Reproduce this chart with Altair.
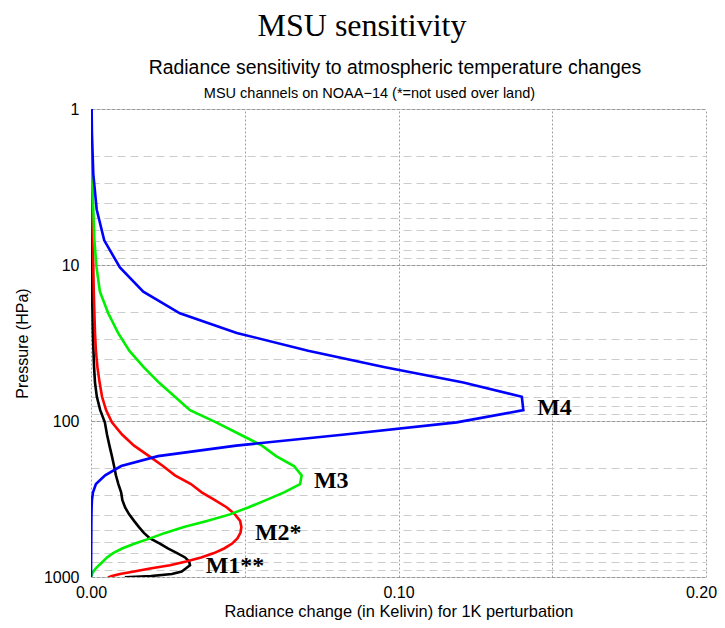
import altair as alt
import pandas as pd

# Pressure levels (hPa)
levels = [0.69, 1.42, 2.611, 4.407, 6.95, 10.37, 14.81, 20.4, 27.26, 35.51,
          45.29, 56.73, 69.97, 85.18, 102.05, 122.04, 143.84, 167.95, 194.36, 222.94,
          253.71, 286.6, 321.5, 358.28, 396.81, 436.95, 478.54, 521.46, 565.54, 610.6,
          656.43, 702.73, 749.12, 795.09, 839.95, 882.8, 922.46, 957.44, 985.88, 1005.43]

m4 = [0.0001, 0.0003, 0.00075, 0.00185, 0.0043, 0.0094, 0.0170, 0.0289, 0.0474, 0.0706,
      0.0956, 0.1211, 0.1401, 0.1406, 0.1189, 0.0825, 0.0472, 0.0218, 0.0098, 0.0046,
      0.0016, 0.00065, 0.0003, 0.0002, 0.00015, 0.00012, 0.0001, 0.0001, 0.00008, 0.00007,
      0.00006, 0.00005, 0.00004, 0.00003, 0.00003, 0.00002, 0.00002, 0.00001, 0.00001, 0.0]

m3 = [0.0, 0.0001, 0.0003, 0.00075, 0.0011, 0.0018, 0.0029, 0.0056, 0.0088, 0.0125,
      0.0172, 0.0221, 0.0273, 0.0322, 0.0407, 0.0485, 0.0556, 0.0602, 0.0660, 0.0685,
      0.0680, 0.0628, 0.0569, 0.0511, 0.0452, 0.0377, 0.0302, 0.0241, 0.0192, 0.0143,
      0.0101, 0.0072, 0.0052, 0.0039, 0.0026, 0.0015, 0.0008, 0.0003, 0.0001, 0.0]

m2 = [0.0, 0.0001, 0.0002, 0.0004, 0.0006, 0.00075, 0.0009, 0.0011, 0.0013, 0.0016,
      0.0021, 0.0028, 0.0036, 0.0049, 0.0068, 0.0101, 0.0140, 0.0189, 0.0234, 0.0273,
      0.0325, 0.0360, 0.0403, 0.0442, 0.0468, 0.0485, 0.0489, 0.0486, 0.0476, 0.0459,
      0.0433, 0.0400, 0.0358, 0.0309, 0.0257, 0.0192, 0.0140, 0.0094, 0.0068, 0.0055]

m1 = [0.0, 0.00005, 0.0001, 0.00013, 0.0002, 0.00026, 0.0003, 0.0005, 0.0006, 0.0008,
      0.0010, 0.0013, 0.0019, 0.0030, 0.0045, 0.0052, 0.0060, 0.0068, 0.0075, 0.0081,
      0.0089, 0.0098, 0.0102, 0.0111, 0.0124, 0.0140, 0.0156, 0.0172, 0.0192, 0.0224,
      0.0250, 0.0280, 0.0306, 0.0319, 0.0322, 0.0308, 0.0295, 0.0263, 0.0195, 0.0110]

channels = ["M1", "M2", "M3", "M4"]
channel_colors = ["#000000", "#ff0000", "#00ee00", "#0000ff"]

label_text = ["M4", "M3", "M2*", "M1**"]
label_x = [0.1451, 0.0725, 0.0533, 0.0373]
label_p = [91.5, 270, 579, 947]

y_ticks = [1, 2, 3, 4, 5, 6, 7, 8, 9, 10, 20, 30, 40, 50, 60, 70, 80, 90,
           100, 200, 300, 400, 500, 600, 700, 800, 900, 1000]
x_ticks = [0.0, 0.05, 0.10, 0.15, 0.20]

rows = []
for name, vals in zip(channels, [m1, m2, m3, m4]):
    for i, (p, v) in enumerate(zip(levels, vals)):
        rows.append({"channel": name, "p": p, "v": v, "idx": i})
df = pd.DataFrame(rows)
labels_df = pd.DataFrame({"text": label_text, "v": label_x, "p": label_p})

decade_test = "datum.value == 1 || datum.value == 10 || datum.value == 100 || datum.value == 1000"

x_scale = alt.Scale(domain=[0, 0.2], nice=False, zero=False)
y_scale = alt.Scale(type="log", domain=[1, 1000], reverse=True, nice=False)

y_axis = alt.Axis(
    title="Pressure (HPa)",
    values=y_ticks,
    labelExpr="(" + decade_test + ") ? format(datum.value, 'd') : ''",
    labelOverlap=False,
    labelFlush=False,
    ticks=False,
    domain=False,
    labelPadding=12,
    labelFontSize=16,
    titleFontSize=16,
    titlePadding=13,
    grid=True,
    gridColor={"condition": {"test": decade_test, "value": "#9a9a9a"}, "value": "#cccccc"},
    gridDash={"condition": {"test": decade_test, "value": [4, 1]}, "value": [8, 5]},
    gridWidth=1,
)

x_axis = alt.Axis(
    title="Radiance change (in Kelivin) for 1K perturbation",
    values=x_ticks,
    format=".2f",
    labelExpr="round(datum.value * 100) % 10 == 5 ? '' : datum.label",
    labelOverlap=False,
    labelFlush=False,
    labelOffset={"condition": {"test": "datum.value > 0.19", "value": -5}, "value": 0},
    ticks=False,
    domain=False,
    labelPadding=7,
    labelFontSize=16,
    titleFontSize=16.4,
    titleBaseline="alphabetic",
    titlePadding=16,
    grid=True,
    gridColor="#a0a0a0",
    gridDash=[2, 2],
    gridWidth=1,
)

lines = alt.Chart(df).mark_line(strokeWidth=2.6, clip=True).encode(
    x=alt.X("v:Q", scale=x_scale, axis=x_axis),
    y=alt.Y("p:Q", scale=y_scale, axis=y_axis),
    color=alt.Color("channel:N", scale=alt.Scale(domain=channels, range=channel_colors), legend=None),
    order=alt.Order("idx:Q"),
)

# curve labels; this layer's top axis carries the third heading line
texts = alt.Chart(labels_df).mark_text(
    font="Liberation Serif", fontWeight="bold", fontSize=24,
    align="left", baseline="alphabetic", color="black",
).encode(
    x=alt.X("v:Q", scale=x_scale, axis=alt.Axis(
        orient="top", title="MSU  channels on NOAA\u221214 (*=not used over land)",
        labels=False, ticks=False, domain=False, grid=False,
        titleFontSize=14.5, titleFontWeight="normal", titleFont="Liberation Sans",
        titleBaseline="alphabetic", titlePadding=12, titleColor="black",
        titleX=278, titleAlign="center", titleAnchor="start")),
    y=alt.Y("p:Q", scale=y_scale),
    text="text:N",
)

# invisible anchor layer; its top axis carries the subtitle line
subtitle_axis = alt.Chart(labels_df).mark_point(opacity=0).encode(
    x=alt.X("v:Q", scale=x_scale, axis=alt.Axis(
        orient="top", title="Radiance sensitivity to atmospheric temperature changes",
        labels=False, ticks=False, domain=False, grid=False,
        titleFontSize=19.4, titleFontWeight="normal", titleFont="Liberation Sans",
        titleBaseline="alphabetic", titlePadding=36, titleColor="black",
        titleX=303.5, titleAlign="center", titleAnchor="start")),
    y=alt.Y("p:Q", scale=y_scale),
)

chart = alt.layer(lines, texts, subtitle_axis).resolve_axis(x="independent").properties(
    width=615,
    height=468,
    autosize=alt.AutoSizeParams(type="none"),
    padding={"left": 83, "top": 101, "right": 11, "bottom": 43},
    title=alt.TitleParams(
        text="MSU sensitivity",
        font="Liberation Serif", fontSize=32, fontWeight="normal", color="black",
        offset=14, anchor="middle", frame="group", dx=-36.5,
    ),
).configure_view(stroke=None).configure_axis(
    labelFont="Liberation Sans", titleFont="Liberation Sans",
    labelColor="black", titleColor="black", titleFontWeight="normal",
)

chart.save("out.html", embed_options={"renderer": "svg", "actions": False})
